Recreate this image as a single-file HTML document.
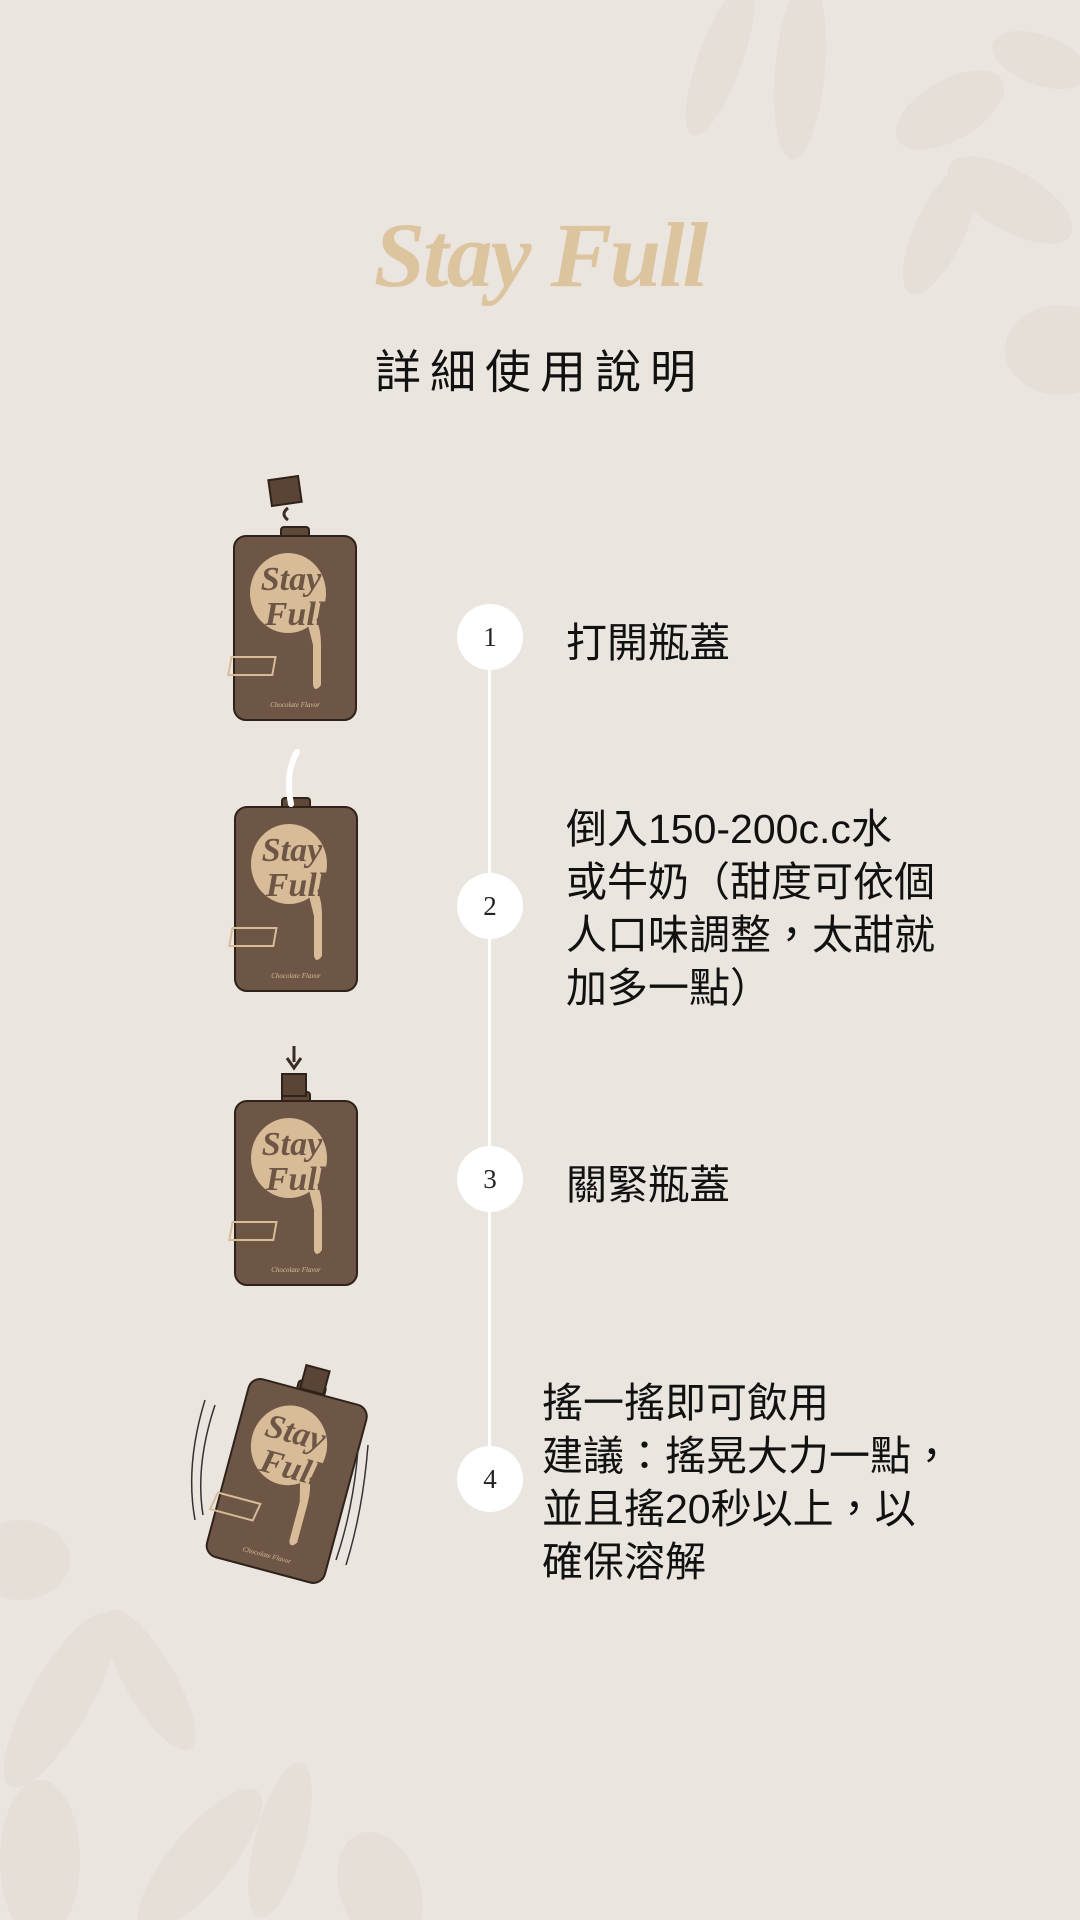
<!DOCTYPE html>
<html><head><meta charset="utf-8">
<style>
html,body{margin:0;padding:0}
body{width:1080px;height:1920px;background:#ebe5df;position:relative;overflow:hidden;font-family:"Liberation Sans","Noto Sans CJK TC",sans-serif;color:#111}
.abs{position:absolute}
.logo{left:360px;top:200px;width:360px;text-align:center;font-family:"Liberation Serif","DejaVu Serif",serif;font-style:italic;font-weight:bold;font-size:92px;color:#dcc49f;letter-spacing:-2px;line-height:110px}
.title{left:0;width:1080px;top:344px;text-align:center;font-size:46px;letter-spacing:9px;line-height:56px}
.line{left:488px;top:640px;width:3px;height:840px;background:#fff}
.c{width:66px;height:66px;border-radius:50%;background:#fff;left:457px;text-align:center;line-height:66px;font-family:"Liberation Serif",serif;font-size:27px;color:#222}
.t{font-size:41px;line-height:53px;left:566px;white-space:nowrap}
</style></head><body>
<svg class="abs" style="left:0;top:0" width="1080" height="1920">
 <g fill="#ddd4cc" opacity="0.35">
  <ellipse cx="720" cy="60" rx="22" ry="80" transform="rotate(20 720 60)"/>
  <ellipse cx="800" cy="70" rx="25" ry="90" transform="rotate(5 800 70)"/>
  <ellipse cx="950" cy="110" rx="60" ry="30" transform="rotate(-30 950 110)"/>
  <ellipse cx="1010" cy="200" rx="70" ry="30" transform="rotate(30 1010 200)"/>
  <ellipse cx="940" cy="230" rx="25" ry="70" transform="rotate(25 940 230)"/>
  <ellipse cx="1060" cy="350" rx="55" ry="45"/>
  <ellipse cx="1040" cy="60" rx="50" ry="25" transform="rotate(20 1040 60)"/>
  <ellipse cx="20" cy="1560" rx="50" ry="40"/>
  <ellipse cx="60" cy="1700" rx="30" ry="100" transform="rotate(30 60 1700)"/>
  <ellipse cx="150" cy="1680" rx="25" ry="80" transform="rotate(-30 150 1680)"/>
  <ellipse cx="200" cy="1860" rx="30" ry="90" transform="rotate(40 200 1860)"/>
  <ellipse cx="280" cy="1840" rx="25" ry="80" transform="rotate(15 280 1840)"/>
  <ellipse cx="380" cy="1890" rx="40" ry="60" transform="rotate(-20 380 1890)"/>
  <ellipse cx="40" cy="1860" rx="40" ry="80"/>
 </g>
 <defs>
  <g id="pouch">
   <rect x="48" y="-8" width="28" height="12" rx="3" fill="#5e4838" stroke="#2e221a" stroke-width="2"/>
   <rect x="1" y="1" width="122" height="184" rx="12" fill="#6d5646" stroke="#2e221a" stroke-width="2"/>
   <ellipse cx="55" cy="58" rx="38" ry="40" fill="#d8bc98"/>
   <path d="M70 70 q18 10 18 40 v40 q-6 8-8 0 v-40 z" fill="#d8bc98"/>
   <text x="58" y="55" text-anchor="middle" font-family="Liberation Serif,serif" font-style="italic" font-weight="bold" font-size="34" fill="#6d5646">Stay</text>
   <text x="62" y="90" text-anchor="middle" font-family="Liberation Serif,serif" font-style="italic" font-weight="bold" font-size="34" fill="#6d5646">Full</text>
   <rect x="20" y="122" width="44" height="18" fill="none" stroke="#d8bc98" stroke-width="2" transform="skewX(-10)"/>
   <text x="62" y="172" text-anchor="middle" font-family="Liberation Serif,serif" font-style="italic" font-size="7" fill="#d8bc98">Chocolate Flavor</text>
  </g>
 </defs>
 <use href="#pouch" x="233" y="535"/>
 <rect x="270" y="478" width="30" height="26" fill="#5a4436" stroke="#2e221a" stroke-width="2" transform="rotate(-8 285 491)"/>
 <path d="M288 520 q-8-6 0-12" stroke="#3a2c22" stroke-width="3" fill="none"/>
 <use href="#pouch" x="234" y="806"/>
 <path d="M297 752 q-12 20 -6 52" stroke="#fff" stroke-width="6" fill="none" stroke-linecap="round"/>
 <use href="#pouch" x="234" y="1100"/>
 <rect x="282" y="1074" width="24" height="22" fill="#5a4436" stroke="#2e221a" stroke-width="2"/>
 <path d="M294 1046 v16 M287 1058 l7 10 l7 -10" stroke="#3a2c22" stroke-width="3" fill="none"/>
 <g transform="rotate(15 287 1480)">
  <use href="#pouch" x="225" y="1388"/>
  <rect x="276" y="1364" width="24" height="24" fill="#5a4436" stroke="#2e221a" stroke-width="2"/>
 </g>
 <path d="M215 1405 q-20 60 -12 110 M205 1400 q-20 65 -10 120 M358 1450 q-5 60 -22 110 M368 1445 q-5 65 -22 120" stroke="#333" stroke-width="1.5" fill="none"/>
</svg>
<div class="abs logo">Stay Full</div>
<div class="abs title">詳細使用說明</div>
<div class="abs line"></div>
<div class="abs c" style="top:604px">1</div>
<div class="abs c" style="top:873px">2</div>
<div class="abs c" style="top:1146px">3</div>
<div class="abs c" style="top:1446px">4</div>
<div class="abs t" style="top:617px">打開瓶蓋</div>
<div class="abs t" style="top:803px">倒入150-200c.c水<br>或牛奶（甜度可依個<br>人口味調整，太甜就<br>加多一點）</div>
<div class="abs t" style="top:1159px">關緊瓶蓋</div>
<div class="abs t" style="top:1377px;left:542px">搖一搖即可飲用<br>建議：搖晃大力一點，<br>並且搖20秒以上，以<br>確保溶解</div>
</body></html>
